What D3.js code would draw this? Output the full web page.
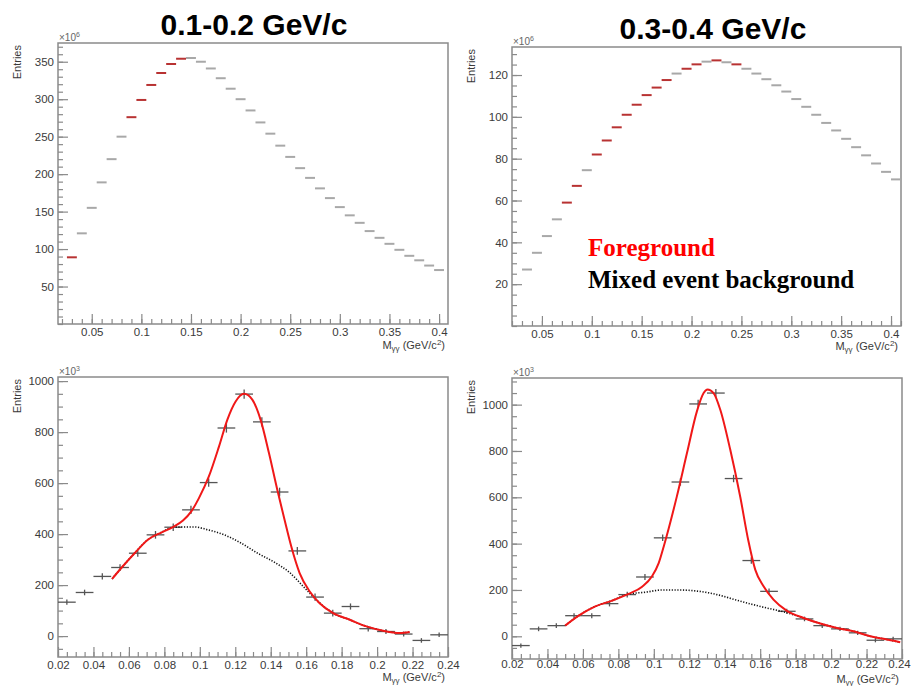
<!DOCTYPE html>
<html>
<head>
<meta charset="utf-8">
<script src="https://cdn.jsdelivr.net/npm/d3@7"></script>
<style>
  body { margin: 0; background: #fff; }
  svg { display: block; font-family: "Liberation Sans", Arial, sans-serif; }
</style>
</head>
<body>
<svg id="chart" width="912" height="686"></svg>
<script>
// Top row: invariant mass, foreground vs mixed-event background (x10^6)
var topLeftX = [0.03,0.04,0.05,0.06,0.07,0.08,0.09,0.10,0.11,0.12,0.13,0.14,0.15,0.16,0.17,0.18,0.19,0.20,0.21,0.22,0.23,0.24,0.25,0.26,0.27,0.28,0.29,0.30,0.31,0.32,0.33,0.34,0.35,0.36,0.37,0.38,0.39,0.40];
var topLeftBg = [89,121,155,189,220,250,276,299,319,335,347,354,355,350,341,328,314,300,285,269,254,238,223,208,195,181,168,156,145,135,124,115,107,99,91,85,78,72];
var topLeftFgX = [0.03,0.09,0.10,0.11,0.12,0.13,0.14];
var topLeftFg = [89,276,299,319,335,347,354];

var topRightX = [0.035,0.045,0.055,0.065,0.075,0.085,0.095,0.105,0.115,0.125,0.135,0.145,0.155,0.165,0.175,0.185,0.195,0.205,0.215,0.225,0.235,0.245,0.255,0.265,0.275,0.285,0.295,0.305,0.315,0.325,0.335,0.345,0.355,0.365,0.375,0.385,0.395,0.405];
var topRightBg = [27,35,43,51,59,67,74.5,82,88.7,95,101,105.8,110.4,114,117.6,120.7,123,125.1,126.4,127,126.1,125.1,123,120.7,118,115.1,112.1,108.5,104.8,101,97.1,93.5,89.5,85.5,81.6,77.7,73.7,70.1];
var topRightFgX = [0.075,0.085,0.105,0.115,0.125,0.135,0.145,0.155,0.165,0.175,0.195,0.205,0.225,0.245];
var topRightFg = [59,67,82,88.7,95,101,105.8,110.4,114,117.6,123,125.1,127,125.1];

// Bottom row: background-subtracted spectra (x10^3) with fits
var botX = [0.025,0.035,0.045,0.055,0.065,0.075,0.085,0.095,0.105,0.115,0.125,0.135,0.145,0.155,0.165,0.175,0.185,0.195,0.205,0.215,0.225,0.235];
var botLeftY = [133,171,234,269,325,397,427,495,602,816,949,840,565,334,153,90,116,29,18,8,-17,5];
var botLeftErr = [10,11,12,13,14,15,15,16,16,18,18,18,17,15,14,13,12,11,10,10,9,9];
var botRightY = [-40,32,46,89,89,141,180,256,425,666,1003,1050,681,327,194,108,75,46,32,15,-17,-11];
var botRightErr = [9,10,10,11,11,12,12,13,14,16,18,18,16,14,12,11,10,10,9,9,9,9];

var fitLeftX = [0.0505,0.0557,0.0632,0.0707,0.0782,0.0848,0.0905,0.0952,0.0995,0.1051,0.1108,0.1155,0.1202,0.1249,0.1296,0.1343,0.139,0.1437,0.1478,0.1516,0.1563,0.162,0.1676,0.1752,0.1846,0.194,0.2034,0.2128,0.2184];
var fitLeftY = [224,267,325,378,406,427,453,489,541,626,743,848,920,950,927,848,718,574,456,351,247,175,129,90,64,38,21,12,16];
var bkgLeftX = [0.0505,0.0557,0.0632,0.0707,0.0782,0.0848,0.0969,0.1044,0.1138,0.1232,0.1326,0.142,0.1505,0.1590,0.1676,0.1752,0.1846,0.194,0.2034,0.2128,0.2184];
var bkgLeftY = [224,267,325,378,406,427,428,417,397,365,325,290,250,190,130,90,64,38,21,12,16];

var fitRightX = [0.05,0.0576,0.067,0.0765,0.0858,0.0934,0.099,0.1028,0.1056,0.113,0.1187,0.1243,0.1281,0.1303,0.1337,0.1375,0.1431,0.1488,0.1534,0.1572,0.1619,0.1675,0.1751,0.1845,0.1939,0.2033,0.2127,0.2221,0.2297,0.239];
var fitRightY = [46,89,129,154,183,214,259,317,388,604,791,971,1050,1065,1050,978,806,600,410,288,216,158,110,79,55,36,22,0,-11,-26];
var bkgRightX = [0.05,0.0576,0.067,0.0765,0.0858,0.0951,0.1045,0.1139,0.1233,0.1308,0.1356,0.145,0.1544,0.1638,0.173,0.1845,0.1939,0.2033,0.2127,0.2221,0.2297,0.239];
var bkgRightY = [46,89,129,154,183,190,200,200,196,188,180,160,140,122,106,79,55,36,22,0,-11,-26];

var svg = d3.select("#chart");
var frameColor = "#8a8a8a", labelColor = "#3a3a3a";
var fmt = function(d) { return String(+d.toFixed(3)); };

function makePanel(p) {
  var x = d3.scaleLinear().domain(p.xDomain).range([p.left, p.right]);
  var y = d3.scaleLinear().domain(p.yDomain).range([p.bottom, p.top]);
  var g = svg.append("g");
  var xPad = p.xPad || 4;

  // minor ticks
  var xMinor = d3.range(Math.ceil(p.xDomain[0] / p.xMinor - 1e-6), Math.floor(p.xDomain[1] / p.xMinor + 1e-6) + 1).map(function(i) { return i * p.xMinor; });
  var yMinor = d3.range(Math.ceil(p.yDomain[0] / p.yMinor - 1e-6), Math.floor(p.yDomain[1] / p.yMinor + 1e-6) + 1).map(function(i) { return i * p.yMinor; });
  g.append("g").attr("transform", "translate(0," + p.bottom + ")")
    .call(d3.axisBottom(x).tickValues(xMinor).tickSizeInner(-5).tickSizeOuter(0).tickFormat(""));
  g.append("g").attr("transform", "translate(" + p.left + ",0)")
    .call(d3.axisLeft(y).tickValues(yMinor).tickSizeInner(-5).tickSizeOuter(0).tickFormat(""));

  // major ticks + labels
  var xAx = g.append("g").attr("transform", "translate(0," + p.bottom + ")")
    .call(d3.axisBottom(x).tickValues(p.xTicks).tickSizeInner(-10).tickSizeOuter(0).tickPadding(xPad).tickFormat(fmt));
  g.append("g").attr("transform", "translate(" + p.left + ",0)")
    .call(d3.axisLeft(y).tickValues(p.yTicks).tickSizeInner(-10).tickSizeOuter(0).tickPadding(4).tickFormat(fmt));
  if (p.lastShift) {
    xAx.selectAll(".tick text").filter(function(d, i, n) { return i === n.length - 1; })
      .attr("dx", p.lastShift);
  }

  g.selectAll(".domain").remove();
  g.selectAll(".tick line").attr("stroke", frameColor).attr("stroke-width", 1.2);
  g.selectAll(".tick text").attr("fill", labelColor).style("font-size", "11.5px");

  g.append("rect")
    .attr("x", p.left).attr("y", p.top)
    .attr("width", p.right - p.left).attr("height", p.bottom - p.top)
    .attr("fill", "none").attr("stroke", frameColor).attr("stroke-width", 1.5);

  // axis titles
  g.append("text")
    .attr("transform", "translate(" + (p.left - 37) + "," + (p.top + 2) + ") rotate(-90)")
    .attr("text-anchor", "end").attr("fill", labelColor).style("font-size", "11px")
    .text("Entries");
  var mult = g.append("text").attr("x", p.left + 1).attr("y", p.top - 2)
    .attr("fill", "#666").style("font-size", "10px").text("×10");
  mult.append("tspan").attr("dy", -4).style("font-size", "7px").text(p.power);

  var xt = g.append("text").attr("x", p.right - 3).attr("y", p.bottom + p.titleGap)
    .attr("text-anchor", "end").attr("fill", labelColor).style("font-size", "11px");
  xt.append("tspan").text("M");
  xt.append("tspan").attr("dy", 2).style("font-size", "8px").text("γγ");
  xt.append("tspan").attr("dy", -2).text(" (GeV/c");
  xt.append("tspan").attr("dy", -4).style("font-size", "8px").text("2");
  xt.append("tspan").attr("dy", 4).text(")");

  return { x: x, y: y, g: g };
}

function drawBars(panel, xs, ys, half, color) {
  panel.g.append("g").selectAll("line").data(xs).join("line")
    .attr("x1", function(d) { return panel.x(d - half); })
    .attr("x2", function(d) { return panel.x(d + half); })
    .attr("y1", function(d, i) { return panel.y(ys[i]); })
    .attr("y2", function(d, i) { return panel.y(ys[i]); })
    .attr("stroke", color).attr("stroke-width", 2);
}

function drawPoints(panel, xs, ys, errs) {
  var pts = panel.g.append("g").selectAll("g").data(xs).join("g");
  pts.append("line")
    .attr("x1", function(d) { return panel.x(d - 0.005); })
    .attr("x2", function(d) { return panel.x(d + 0.005); })
    .attr("y1", function(d, i) { return panel.y(ys[i]); })
    .attr("y2", function(d, i) { return panel.y(ys[i]); });
  pts.append("line")
    .attr("x1", function(d) { return panel.x(d); })
    .attr("x2", function(d) { return panel.x(d); })
    .attr("y1", function(d, i) { return panel.y(ys[i] - errs[i]); })
    .attr("y2", function(d, i) { return panel.y(ys[i] + errs[i]); });
  pts.selectAll("line").attr("stroke", "#555").attr("stroke-width", 1.3);
}

function drawCurve(panel, xs, ys, color, width, dash) {
  var line = d3.line()
    .x(function(d) { return panel.x(d); })
    .y(function(d, i) { return panel.y(ys[i]); })
    .curve(d3.curveMonotoneX);
  panel.g.append("path").datum(xs)
    .attr("d", line).attr("fill", "none")
    .attr("stroke", color).attr("stroke-width", width)
    .attr("stroke-dasharray", dash);
}

// Top-left panel
var tl = makePanel({ left: 58, right: 448, top: 43, bottom: 324,
  xDomain: [0.016, 0.409], yDomain: [0, 375],
  xTicks: [0.05,0.1,0.15,0.2,0.25,0.3,0.35,0.4], xMinor: 0.01,
  yTicks: [50,100,150,200,250,300,350], yMinor: 10, power: "6", titleGap: 25 });
drawBars(tl, topLeftFgX, topLeftFg, 0.005, "#b83232");
drawBars(tl, topLeftX.filter(function(d, i) { return topLeftFgX.indexOf(d) < 0; }),
  topLeftBg.filter(function(d, i) { return topLeftFgX.indexOf(topLeftX[i]) < 0; }), 0.005, "#a8a8a8");

// Top-right panel
var tr = makePanel({ left: 512, right: 901, top: 47, bottom: 326,
  xDomain: [0.02, 0.41], yDomain: [0, 133.4],
  xTicks: [0.05,0.1,0.15,0.2,0.25,0.3,0.35,0.4], xMinor: 0.01,
  yTicks: [20,40,60,80,100,120], yMinor: 5, power: "6", titleGap: 24 });
drawBars(tr, topRightX.filter(function(d) { return topRightFgX.indexOf(d) < 0; }),
  topRightBg.filter(function(d, i) { return topRightFgX.indexOf(topRightX[i]) < 0; }), 0.005, "#a8a8a8");
drawBars(tr, topRightFgX, topRightFg, 0.005, "#b83232");

// Bottom-left panel
var bl = makePanel({ left: 58, right: 448, top: 377, bottom: 657,
  xDomain: [0.02, 0.24], yDomain: [-82, 1016],
  xTicks: [0.02,0.04,0.06,0.08,0.1,0.12,0.14,0.16,0.18,0.2,0.22,0.24], xMinor: 0.005,
  yTicks: [0,200,400,600,800,1000], yMinor: 50, power: "3", titleGap: 24 });
drawPoints(bl, botX, botLeftY, botLeftErr);
drawCurve(bl, bkgLeftX, bkgLeftY, "#111", 1.6, "1.2,1.6");
drawCurve(bl, fitLeftX, fitLeftY, "#f01818", 2, null);

// Bottom-right panel
var br = makePanel({ left: 512, right: 902, top: 378, bottom: 659,
  xDomain: [0.02, 0.24], yDomain: [-98, 1115],
  xTicks: [0.02,0.04,0.06,0.08,0.1,0.12,0.14,0.16,0.18,0.2,0.22,0.24], xMinor: 0.005,
  yTicks: [0,200,400,600,800,1000], yMinor: 50, power: "3", titleGap: 24, xPad: 1, lastShift: -3 });
drawPoints(br, botX, botRightY, botRightErr);
drawCurve(br, bkgRightX, bkgRightY, "#111", 1.6, "1.2,1.6");
drawCurve(br, fitRightX, fitRightY, "#f01818", 2, null);

// Titles and legend text
svg.append("text").attr("x", 254).attr("y", 35).attr("text-anchor", "middle")
  .style("font-size", "30px").style("font-weight", "bold").attr("fill", "#000").text("0.1-0.2 GeV/c");
svg.append("text").attr("x", 713).attr("y", 39).attr("text-anchor", "middle")
  .style("font-size", "30px").style("font-weight", "bold").attr("fill", "#000").text("0.3-0.4 GeV/c");
svg.append("text").attr("x", 588).attr("y", 256)
  .style("font-family", "'Liberation Serif', 'Times New Roman', serif")
  .style("font-size", "25px").style("font-weight", "bold").attr("fill", "#ff0000").text("Foreground");
svg.append("text").attr("x", 588).attr("y", 288)
  .style("font-family", "'Liberation Serif', 'Times New Roman', serif")
  .style("font-size", "25px").style("font-weight", "bold").attr("fill", "#000").text("Mixed event background");
</script>
</body>
</html>
